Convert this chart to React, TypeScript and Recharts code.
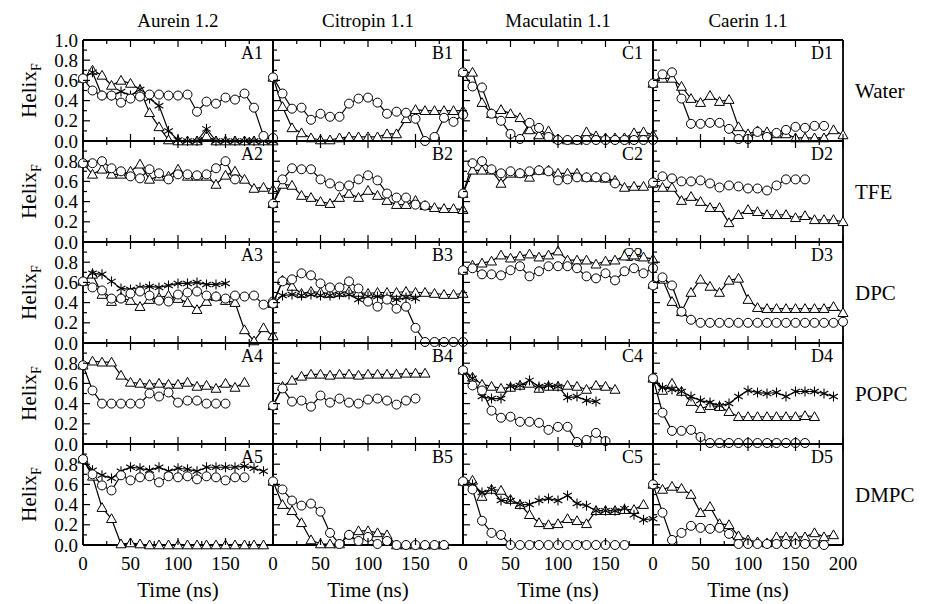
import React from 'react';
import { LineChart, Line, XAxis, YAxis } from 'recharts';

// ---------- data ----------
const TIME = [0, 10, 20, 30, 40, 50, 60, 70, 80, 90, 100, 110, 120, 130, 140, 150, 160, 170, 180, 190, 200];
const X_TICKS = [0, 25, 50, 75, 100, 125, 150, 175, 200];
const Y_TICKS = [0, 0.1, 0.2, 0.3, 0.4, 0.5, 0.6, 0.7, 0.8, 0.9, 1];
const COLUMN_TITLES = ['Aurein 1.2', 'Citropin 1.1', 'Maculatin 1.1', 'Caerin 1.1'];
const ROW_LABELS = ['Water', 'TFE', 'DPC', 'POPC', 'DMPC'];
const COLUMN_LETTERS = ['A', 'B', 'C', 'D'];

// Row 1: Water
const A1_CIR = [0.62, 0.5, 0.45, 0.45, 0.38, 0.42, 0.44, 0.46, 0.46, 0.45, 0.45, 0.46, 0.29, 0.39, 0.37, 0.43, 0.41, 0.47, 0.33, 0.05, 0.03];
const A1_TRI = [0.62, 0.7, 0.65, 0.55, 0.6, 0.57, 0.51, 0.28, 0.14, 0.01, 0.0, 0.0, 0.0, 0.05, 0.0, 0.0, 0.0, 0.0, 0.0, 0.0, 0.0];
const A1_AST = [0.62, 0.68, 0.45, 0.45, 0.49, 0.45, 0.51, 0.42, 0.35, 0.1, 0.01, 0.0, 0.0, 0.12, 0.0, 0.0, 0.0, 0.0, 0.0, 0.0, 0.0];
const B1_CIR = [0.63, 0.47, 0.32, 0.33, 0.21, 0.27, 0.24, 0.24, 0.37, 0.42, 0.43, 0.38, 0.27, 0.29, 0.28, 0.22, 0.0, 0.04, 0.23, 0.19, 0.26];
const B1_TRI = [0.63, 0.34, 0.13, 0.08, 0.03, 0.01, 0.01, 0.03, 0.04, 0.04, 0.04, 0.04, 0.07, 0.07, 0.22, 0.31, 0.3, 0.3, 0.3, 0.3, 0.3];
const C1_CIR = [0.68, 0.54, 0.53, 0.27, 0.2, 0.07, 0.02, 0.18, 0.13, 0.04, 0.01, 0.01, 0.01, 0.01, 0.01, 0.01, 0.01, 0.01, 0.01, 0.01, 0.01];
const C1_TRI = [0.68, 0.68, 0.38, 0.27, 0.31, 0.27, 0.23, 0.11, 0.06, 0.1, 0.02, 0.01, 0.01, 0.09, 0.05, 0.03, 0.03, 0.03, 0.08, 0.09, 0.06];
const D1_CIR = [0.57, 0.66, 0.68, 0.42, 0.17, 0.17, 0.18, 0.18, 0.12, 0.02, 0.02, 0.09, 0.04, 0.08, 0.11, 0.14, 0.13, 0.15, 0.15];
const D1_TRI = [0.57, 0.62, 0.62, 0.54, 0.42, 0.38, 0.45, 0.39, 0.41, 0.14, 0.07, 0.1, 0.09, 0.07, 0.07, 0.03, 0.03, 0.03, 0.03, 0.11, 0.06];

// Row 2: TFE
const A2_CIR = [0.78, 0.78, 0.8, 0.73, 0.7, 0.65, 0.63, 0.72, 0.68, 0.62, 0.67, 0.67, 0.66, 0.67, 0.73, 0.8, 0.62];
const A2_TRI = [0.78, 0.67, 0.72, 0.67, 0.67, 0.7, 0.77, 0.62, 0.65, 0.65, 0.72, 0.65, 0.65, 0.65, 0.57, 0.66, 0.7, 0.62, 0.53, 0.54, 0.52];
const B2_CIR = [0.38, 0.62, 0.73, 0.72, 0.72, 0.62, 0.58, 0.55, 0.56, 0.62, 0.66, 0.61, 0.48, 0.44, 0.44, 0.37, 0.36];
const B2_TRI = [0.38, 0.57, 0.56, 0.46, 0.44, 0.4, 0.38, 0.44, 0.48, 0.44, 0.51, 0.46, 0.41, 0.37, 0.37, 0.41, 0.36, 0.34, 0.33, 0.33, 0.32];
const C2_CIR = [0.48, 0.78, 0.8, 0.72, 0.68, 0.7, 0.68, 0.7, 0.71, 0.7, 0.61, 0.62, 0.64, 0.64, 0.64, 0.64, 0.58];
const C2_TRI = [0.48, 0.71, 0.71, 0.71, 0.58, 0.68, 0.68, 0.64, 0.71, 0.71, 0.68, 0.68, 0.68, 0.64, 0.64, 0.63, 0.61, 0.54, 0.55, 0.55];
const D2_CIR = [0.59, 0.65, 0.63, 0.6, 0.6, 0.61, 0.58, 0.54, 0.56, 0.55, 0.53, 0.53, 0.51, 0.56, 0.62, 0.62, 0.62];
const D2_TRI = [0.58, 0.54, 0.54, 0.41, 0.45, 0.4, 0.34, 0.34, 0.19, 0.27, 0.32, 0.3, 0.27, 0.27, 0.27, 0.24, 0.26, 0.22, 0.22, 0.22, 0.2];

// Row 3: DPC
const A3_CIR = [0.61, 0.55, 0.52, 0.44, 0.44, 0.49, 0.51, 0.47, 0.42, 0.41, 0.48, 0.5, 0.51, 0.47, 0.46, 0.44, 0.47, 0.46, 0.47, 0.38, 0.41];
const A3_TRI = [0.61, 0.68, 0.48, 0.41, 0.45, 0.42, 0.36, 0.43, 0.45, 0.47, 0.44, 0.4, 0.33, 0.41, 0.46, 0.42, 0.4, 0.13, 0.02, 0.15, 0.07];
const A3_AST = [0.61, 0.69, 0.68, 0.61, 0.54, 0.53, 0.55, 0.56, 0.55, 0.57, 0.59, 0.59, 0.6, 0.58, 0.58, 0.59];
const B3_CIR = [0.39, 0.61, 0.63, 0.69, 0.67, 0.59, 0.55, 0.55, 0.61, 0.54, 0.41, 0.36, 0.43, 0.34, 0.36, 0.15, 0.01, 0.01, 0.01, 0.01, 0.01];
const B3_TRI = [0.39, 0.62, 0.56, 0.49, 0.51, 0.5, 0.49, 0.5, 0.51, 0.5, 0.49, 0.5, 0.5, 0.5, 0.51, 0.5, 0.5, 0.49, 0.48, 0.48, 0.49];
const B3_AST = [0.39, 0.47, 0.48, 0.47, 0.48, 0.47, 0.47, 0.48, 0.48, 0.43, 0.46, 0.46, 0.45, 0.43, 0.45, 0.44];
const C3_CIR = [0.72, 0.74, 0.68, 0.68, 0.67, 0.72, 0.76, 0.66, 0.71, 0.76, 0.76, 0.76, 0.74, 0.66, 0.64, 0.69, 0.62, 0.71, 0.74, 0.69, 0.74];
const C3_TRI = [0.72, 0.77, 0.79, 0.81, 0.87, 0.84, 0.86, 0.88, 0.85, 0.87, 0.91, 0.82, 0.82, 0.82, 0.78, 0.81, 0.82, 0.86, 0.87, 0.85, 0.83];
const D3_CIR = [0.57, 0.65, 0.57, 0.31, 0.23, 0.2, 0.2, 0.2, 0.2, 0.2, 0.2, 0.2, 0.2, 0.2, 0.2, 0.2, 0.2, 0.2, 0.2, 0.2, 0.21];
const D3_TRI = [0.58, 0.63, 0.41, 0.31, 0.5, 0.63, 0.56, 0.5, 0.62, 0.64, 0.43, 0.35, 0.34, 0.34, 0.34, 0.34, 0.34, 0.34, 0.34, 0.36, 0.3];

// Row 4: POPC
const A4_CIR = [0.78, 0.53, 0.4, 0.4, 0.4, 0.4, 0.4, 0.5, 0.47, 0.51, 0.41, 0.43, 0.43, 0.4, 0.4, 0.4];
const A4_TRI = [0.78, 0.82, 0.81, 0.81, 0.68, 0.61, 0.6, 0.59, 0.6, 0.59, 0.59, 0.61, 0.57, 0.58, 0.55, 0.6, 0.56, 0.61];
const B4_CIR = [0.38, 0.55, 0.42, 0.43, 0.37, 0.48, 0.41, 0.45, 0.41, 0.4, 0.44, 0.45, 0.43, 0.39, 0.43, 0.45];
const B4_TRI = [0.38, 0.57, 0.63, 0.67, 0.69, 0.69, 0.68, 0.69, 0.69, 0.68, 0.69, 0.69, 0.69, 0.69, 0.7, 0.7, 0.7];
const C4_CIR = [0.73, 0.58, 0.53, 0.33, 0.26, 0.27, 0.22, 0.22, 0.21, 0.14, 0.17, 0.17, 0.02, 0.04, 0.11, 0.03];
const C4_TRI = [0.73, 0.66, 0.59, 0.57, 0.55, 0.56, 0.58, 0.6, 0.55, 0.57, 0.57, 0.58, 0.57, 0.54, 0.58, 0.57, 0.54];
const C4_AST = [0.73, 0.65, 0.47, 0.45, 0.45, 0.57, 0.58, 0.63, 0.57, 0.58, 0.57, 0.46, 0.47, 0.43, 0.42];
const D4_CIR = [0.65, 0.31, 0.13, 0.13, 0.14, 0.07, 0.01, 0.01, 0.01, 0.01, 0.01, 0.01, 0.01, 0.01, 0.01, 0.01, 0.01];
const D4_TRI = [0.65, 0.53, 0.6, 0.52, 0.42, 0.35, 0.38, 0.37, 0.32, 0.27, 0.27, 0.27, 0.27, 0.27, 0.27, 0.27, 0.28, 0.27];
const D4_AST = [0.65, 0.56, 0.54, 0.52, 0.47, 0.43, 0.41, 0.38, 0.4, 0.47, 0.53, 0.51, 0.5, 0.51, 0.47, 0.52, 0.52, 0.52, 0.5, 0.47];

// Row 5: DMPC
const A5_CIR = [0.85, 0.7, 0.59, 0.54, 0.69, 0.64, 0.67, 0.68, 0.62, 0.68, 0.67, 0.68, 0.65, 0.68, 0.67, 0.64, 0.67, 0.67];
const A5_TRI = [0.85, 0.68, 0.37, 0.26, 0.01, 0.02, 0.01, 0.0, 0.0, 0.0, 0.0, 0.0, 0.0, 0.0, 0.0, 0.0, 0.0, 0.0, 0.0, 0.0];
const A5_AST = [0.85, 0.74, 0.69, 0.66, 0.73, 0.77, 0.76, 0.74, 0.77, 0.73, 0.76, 0.75, 0.73, 0.77, 0.77, 0.77, 0.77, 0.78, 0.76, 0.73];
const B5_CIR = [0.63, 0.55, 0.44, 0.39, 0.41, 0.33, 0.12, 0.01, 0.1, 0.04, 0.08, 0.01, 0.04, 0.0, 0.0, 0.0, 0.0, 0.0, 0.0];
const B5_TRI = [0.63, 0.4, 0.34, 0.22, 0.05, 0.01, 0.01, 0.01, 0.1, 0.14, 0.14, 0.12, 0.1, 0.0, 0.0, 0.0, 0.0, 0.0, 0.0];
const C5_CIR = [0.63, 0.55, 0.24, 0.12, 0.1, 0.0, 0.0, 0.0, 0.0, 0.0, 0.0, 0.0, 0.0, 0.0, 0.0, 0.0, 0.0, 0.0];
const C5_TRI = [0.63, 0.64, 0.48, 0.55, 0.54, 0.45, 0.4, 0.3, 0.22, 0.2, 0.21, 0.26, 0.24, 0.21, 0.34, 0.34, 0.34, 0.35, 0.35, 0.4];
const C5_AST = [0.63, 0.6, 0.52, 0.55, 0.44, 0.44, 0.4, 0.4, 0.44, 0.46, 0.44, 0.49, 0.41, 0.39, 0.34, 0.34, 0.34, 0.36, 0.3, 0.25, 0.26];
const D5_CIR = [0.6, 0.32, 0.05, 0.12, 0.19, 0.17, 0.16, 0.17, 0.11, 0.01, 0.01, 0.01, 0.01, 0.01, 0.01, 0.01, 0.01, 0.01, 0.0];
const D5_TRI = [0.6, 0.55, 0.58, 0.56, 0.5, 0.32, 0.38, 0.21, 0.2, 0.09, 0.05, 0.03, 0.02, 0.08, 0.08, 0.08, 0.08, 0.12, 0.08, 0.1];

type Series = { cir: number[]; tri: number[]; ast?: number[] };
const PANELS: Series[][] = [
  [{ cir: A1_CIR, tri: A1_TRI, ast: A1_AST }, { cir: B1_CIR, tri: B1_TRI }, { cir: C1_CIR, tri: C1_TRI }, { cir: D1_CIR, tri: D1_TRI }],
  [{ cir: A2_CIR, tri: A2_TRI }, { cir: B2_CIR, tri: B2_TRI }, { cir: C2_CIR, tri: C2_TRI }, { cir: D2_CIR, tri: D2_TRI }],
  [{ cir: A3_CIR, tri: A3_TRI, ast: A3_AST }, { cir: B3_CIR, tri: B3_TRI, ast: B3_AST }, { cir: C3_CIR, tri: C3_TRI }, { cir: D3_CIR, tri: D3_TRI }],
  [{ cir: A4_CIR, tri: A4_TRI }, { cir: B4_CIR, tri: B4_TRI }, { cir: C4_CIR, tri: C4_TRI, ast: C4_AST }, { cir: D4_CIR, tri: D4_TRI, ast: D4_AST }],
  [{ cir: A5_CIR, tri: A5_TRI, ast: A5_AST }, { cir: B5_CIR, tri: B5_TRI }, { cir: C5_CIR, tri: C5_TRI, ast: C5_AST }, { cir: D5_CIR, tri: D5_TRI }],
];

// ---------- layout ----------
const COL_X0 = 83;
const COL_W = 190;
const ROW_Y0 = 40;
const ROW_H = 101;
const M = 12;
const FONT = '"Liberation Serif", "Times New Roman", Times, serif';
const AXIS_LINE = { stroke: '#000', strokeWidth: 1.8 };
const textStyle = (size: number): React.CSSProperties => ({ fontFamily: FONT, fontSize: size });

const makeXTick = (side: 'top' | 'bottom', showLabels: boolean, showLast: boolean) => (props: any) => {
  const { x, y, payload, index } = props;
  const v = payload.value;
  const major = v % 50 === 0;
  const len = major ? 7 : 4;
  const dir = side === 'bottom' ? -1 : 1;
  const label = side === 'bottom' && showLabels && major && (v < 200 || showLast);
  return (
    <g key={`x-${side}-${index}`}>
      <line x1={x} y1={y} x2={x} y2={y + dir * len} stroke="#000" strokeWidth={1.2} />
      {label && (
        <text x={x} y={y + 25} textAnchor="middle" style={textStyle(19)} fill="#000">
          {v}
        </text>
      )}
    </g>
  );
};

const makeYTick = (side: 'left' | 'right', showLabels: boolean, showTop: boolean) => (props: any) => {
  const { x, y, payload, index } = props;
  const v = payload.value;
  const k = Math.round(v * 10);
  const major = k % 2 === 0;
  const len = major ? 7 : 4;
  const dir = side === 'left' ? 1 : -1;
  const label = side === 'left' && showLabels && major && (k < 10 || showTop);
  return (
    <g key={`y-${side}-${index}`}>
      <line x1={x} y1={y} x2={x + dir * len} y2={y} stroke="#000" strokeWidth={1.2} />
      {label && (
        <text x={x - 5} y={y + 6.5} textAnchor="end" style={textStyle(19)} fill="#000">
          {v.toFixed(1)}
        </text>
      )}
    </g>
  );
};

const makeMarker = (kind: 'cir' | 'tri' | 'ast') => (props: any) => {
  const { cx, cy, index } = props;
  const key = `${kind}-${index}`;
  if (cx == null || cy == null || Number.isNaN(cx) || Number.isNaN(cy)) return <g key={key} />;
  if (kind === 'cir') {
    return <circle key={key} cx={cx} cy={cy} r={4.5} fill="#fff" stroke="#000" strokeWidth={1} />;
  }
  if (kind === 'tri') {
    return (
      <polygon
        key={key}
        points={`${cx},${cy - 5} ${cx - 5},${cy + 3.8} ${cx + 5},${cy + 3.8}`}
        fill="#fff"
        stroke="#000"
        strokeWidth={1}
      />
    );
  }
  const r = 5;
  const dx = 4.33;
  const dy = 2.5;
  return (
    <g key={key} stroke="#000" strokeWidth={1.1}>
      <line x1={cx} y1={cy - r} x2={cx} y2={cy + r} />
      <line x1={cx - dx} y1={cy - dy} x2={cx + dx} y2={cy + dy} />
      <line x1={cx - dx} y1={cy + dy} x2={cx + dx} y2={cy - dy} />
    </g>
  );
};

function Panel({ row, col, series }: { row: number; col: number; series: Series }) {
  const data = TIME.map((t, i) => ({
    t,
    c: series.cir[i],
    tr: series.tri[i],
    a: series.ast ? series.ast[i] : undefined,
  }));
  const left = COL_X0 + col * COL_W - M;
  const top = ROW_Y0 + row * ROW_H - M;
  const isFirstCol = col === 0;
  const isLastRow = row === PANELS.length - 1;
  const isLastCol = col === 3;
  return (
    <div style={{ position: 'absolute', left, top }}>
      <LineChart
        width={COL_W + 2 * M}
        height={ROW_H + 2 * M}
        data={data}
        margin={{ top: M - 1, right: M - 1, bottom: M - 1, left: M - 1 }}
      >
        <XAxis
          xAxisId="b"
          dataKey="t"
          type="number"
          domain={[0, 200]}
          ticks={X_TICKS}
          interval={0}
          orientation="bottom"
          height={1}
          tickSize={0}
          tickMargin={0}
          tickLine={false}
          axisLine={AXIS_LINE}
          tick={makeXTick('bottom', isLastRow, isLastCol)}
        />
        <XAxis
          xAxisId="t"
          dataKey="t"
          type="number"
          domain={[0, 200]}
          ticks={X_TICKS}
          interval={0}
          orientation="top"
          height={1}
          tickSize={0}
          tickMargin={0}
          tickLine={false}
          axisLine={AXIS_LINE}
          tick={makeXTick('top', false, false)}
        />
        <YAxis
          yAxisId="l"
          type="number"
          domain={[0, 1]}
          ticks={Y_TICKS}
          interval={0}
          orientation="left"
          width={1}
          tickSize={0}
          tickMargin={0}
          tickLine={false}
          axisLine={AXIS_LINE}
          tick={makeYTick('left', isFirstCol, row === 0)}
        />
        <YAxis
          yAxisId="r"
          type="number"
          domain={[0, 1]}
          ticks={Y_TICKS}
          interval={0}
          orientation="right"
          width={1}
          tickSize={0}
          tickMargin={0}
          tickLine={false}
          axisLine={AXIS_LINE}
          tick={makeYTick('right', false, false)}
        />
        <Line
          xAxisId="b"
          yAxisId="l"
          dataKey="tr"
          stroke="#000"
          strokeWidth={1.2}
          dot={makeMarker('tri')}
          activeDot={false}
          isAnimationActive={false}
        />
        {series.ast && (
          <Line
            xAxisId="b"
            yAxisId="l"
            dataKey="a"
            stroke="#000"
            strokeWidth={1.2}
            dot={makeMarker('ast')}
            activeDot={false}
            isAnimationActive={false}
          />
        )}
        <Line
          xAxisId="b"
          yAxisId="l"
          dataKey="c"
          stroke="#000"
          strokeWidth={1.2}
          dot={makeMarker('cir')}
          activeDot={false}
          isAnimationActive={false}
        />
      </LineChart>
    </div>
  );
}

export default function App() {
  return (
    <div style={{ position: 'absolute', left: 0, top: 0, width: 931, height: 604, background: '#fff' }}>
      <style>{`.recharts-surface{overflow:visible}.recharts-wrapper{overflow:visible}`}</style>
      <svg width={931} height={604} style={{ position: 'absolute', left: 0, top: 0 }}>
        {COLUMN_TITLES.map((t, c) => (
          <text key={`title-${c}`} x={COL_X0 + c * COL_W + COL_W / 2} y={27} textAnchor="middle" style={textStyle(19)} fill="#000">
            {t}
          </text>
        ))}
        {ROW_LABELS.map((t, r) => (
          <text key={`row-${r}`} x={855} y={ROW_Y0 + r * ROW_H + ROW_H / 2 + 7} style={textStyle(21)} fill="#000">
            {t}
          </text>
        ))}
        {ROW_LABELS.map((_, r) => {
          const cy = ROW_Y0 + r * ROW_H + ROW_H / 2;
          return (
            <text
              key={`hel-${r}`}
              x={36}
              y={cy}
              transform={`rotate(-90, 36, ${cy})`}
              textAnchor="middle"
              style={textStyle(21)}
              fill="#000"
            >
              Helix
              <tspan style={{ fontSize: 14 }} dy={5}>F</tspan>
            </text>
          );
        })}
        {COLUMN_TITLES.map((_, c) => (
          <text key={`time-${c}`} x={COL_X0 + c * COL_W + COL_W / 2} y={597} textAnchor="middle" style={textStyle(21)} fill="#000">
            Time (ns)
          </text>
        ))}
        {PANELS.map((rowPanels, r) =>
          rowPanels.map((_, c) => (
            <text
              key={`pl-${r}-${c}`}
              x={COL_X0 + (c + 1) * COL_W - 10}
              y={ROW_Y0 + r * ROW_H + 19}
              textAnchor="end"
              style={textStyle(18)}
              fill="#000"
            >
              {`${COLUMN_LETTERS[c]}${r + 1}`}
            </text>
          ))
        )}
      </svg>
      {PANELS.map((rowPanels, r) =>
        rowPanels.map((s, c) => <Panel key={`p-${r}-${c}`} row={r} col={c} series={s} />)
      )}
    </div>
  );
}
